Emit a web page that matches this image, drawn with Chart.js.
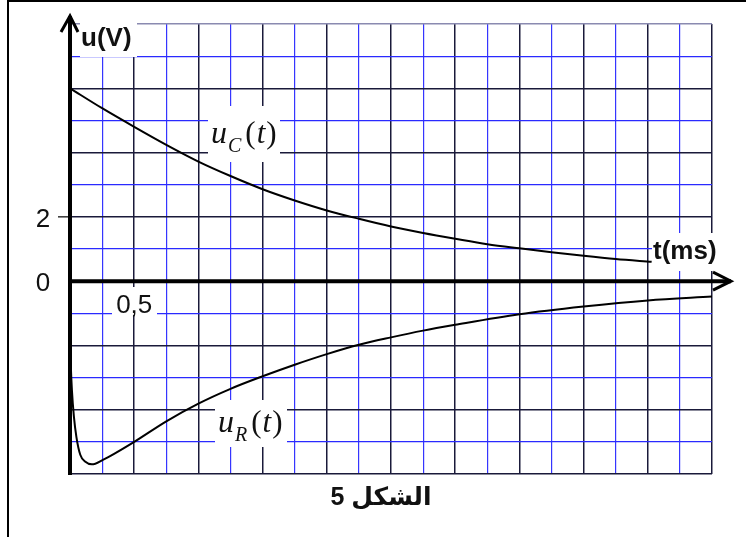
<!DOCTYPE html>
<html>
<head>
<meta charset="utf-8">
<script src="https://cdn.jsdelivr.net/npm/chart.js@4/dist/chart.umd.min.js"></script>
<style>
  html, body { margin: 0; padding: 0; background: #fff; }
  canvas { display: block; }
</style>
</head>
<body>
<canvas id="graphe" width="746" height="537"></canvas>
<script>
// temps (ms) et tensions (V)
const tempsC = [0, 0.25, 0.5, 0.75, 1, 1.25, 1.5, 1.75, 2, 2.25, 2.5, 2.75, 3, 3.25, 3.5, 3.75, 4, 4.25, 4.53];
const tensionC = [6.0, 5.38, 4.8, 4.24, 3.72, 3.27, 2.86, 2.51, 2.2, 1.94, 1.7, 1.5, 1.32, 1.15, 1.02, 0.9, 0.79, 0.69, 0.6];

const tempsR = [0, 0.006, 0.015, 0.03, 0.05, 0.08, 0.12, 0.17, 0.26, 0.34, 0.5, 0.75, 1, 1.25, 1.5, 1.75, 2, 2.25, 2.5, 2.75, 3, 3.5, 4, 4.5, 5];
const tensionR = [-1.8, -2.6, -3.4, -4.2, -4.85, -5.4, -5.62, -5.7, -5.55, -5.38, -5.0, -4.36, -3.81, -3.35, -2.96, -2.6, -2.27, -1.98, -1.75, -1.54, -1.36, -1.03, -0.79, -0.6, -0.48];

// graduations affichées
const etiquettesY = [0, 2];
const etiquettesX = [0.5];

const pts = (xs, ys) => xs.map((x, i) => ({ x: x, y: ys[i] }));

// cache blanc derrière une étiquette
function boite(ctx, x, y, w, h) {
  ctx.fillStyle = '#fff';
  ctx.fillRect(x, y, w, h);
}

const decor = {
  id: 'decor',
  beforeDatasetsDraw(chart) {
    const ctx = chart.ctx;
    const sx = chart.scales.x, sy = chart.scales.y;
    ctx.save();

    boite(ctx, 80, 14, 57, 43);
    boite(ctx, 208, 106, 72, 56);
    boite(ctx, 215, 400, 72, 47);
    boite(ctx, 112, 287, 45, 28);
    boite(ctx, 652, 233, 73, 38);

    ctx.fillStyle = '#111';
    ctx.textBaseline = 'alphabetic';

    // u(V) et t(ms)
    ctx.font = 'bold 26px Arial, "Liberation Sans"';
    ctx.textAlign = 'left';
    ctx.fillText('u(V)', 81, 46);
    ctx.fillText('t(ms)', 653, 259);

    // graduations
    ctx.font = '26px Arial, "Liberation Sans"';
    ctx.textAlign = 'center';
    etiquettesY.forEach(v => {
      ctx.fillText(String(v), 43, sy.getPixelForValue(v) + 10);
    });
    etiquettesX.forEach(v => {
      ctx.fillText(String(v).replace('.', ','), sx.getPixelForValue(v), 313);
    });

    // petit trait à 2
    ctx.strokeStyle = '#000';
    ctx.lineWidth = 1.2;
    ctx.beginPath();
    ctx.moveTo(58, sy.getPixelForValue(2));
    ctx.lineTo(sx.left, sy.getPixelForValue(2));
    ctx.stroke();

    // u_C(t) et u_R(t)
    ecrireTension(ctx, 'C', 211, 143);
    ecrireTension(ctx, 'R', 218, 432);

    // légende
    ctx.font = 'bold 25px Arial, "DejaVu Sans"';
    ctx.textAlign = 'center';
    ctx.direction = 'rtl';
    ctx.fillText('الشكل 5', 381, 505);
    ctx.restore();
  },
  afterDraw(chart) {
    const ctx = chart.ctx;
    const sx = chart.scales.x, sy = chart.scales.y;
    const x0 = sx.getPixelForValue(0), y0 = sy.getPixelForValue(0);
    ctx.save();
    ctx.strokeStyle = '#000';

    // axes épais
    ctx.lineWidth = 4;
    ctx.beginPath();
    ctx.moveTo(x0, sy.bottom + 1);
    ctx.lineTo(x0, 16);
    ctx.moveTo(x0, y0);
    ctx.lineTo(731, y0);
    ctx.stroke();

    // flèches
    ctx.lineWidth = 3;
    ctx.beginPath();
    ctx.moveTo(x0 - 9, 32);
    ctx.lineTo(x0, 16);
    ctx.lineTo(x0 + 8, 32);
    ctx.moveTo(713, y0 - 9);
    ctx.lineTo(731, y0);
    ctx.lineTo(713, y0 + 9);
    ctx.stroke();

    // cadre
    ctx.lineWidth = 2;
    ctx.strokeRect(8, 1, 800, 600);
    ctx.restore();
  }
};

function ecrireTension(ctx, indice, x, y) {
  const serif = '"Liberation Serif", "Times New Roman", serif';
  ctx.textAlign = 'left';
  ctx.font = 'italic 32px ' + serif;
  ctx.fillText('u', x, y);
  let cx = x + ctx.measureText('u').width + 1;
  ctx.font = 'italic 20px ' + serif;
  ctx.fillText(indice, cx, y + 9);
  cx += ctx.measureText(indice).width + 4;
  ctx.font = '31px ' + serif;
  ctx.fillText('(', cx, y);
  cx += ctx.measureText('(').width + 1;
  ctx.font = 'italic 31px ' + serif;
  ctx.fillText('t', cx, y);
  cx += ctx.measureText('t').width + 1;
  ctx.font = '31px ' + serif;
  ctx.fillText(')', cx, y);
}

const courbe = (data) => ({
  data: data,
  borderColor: '#000',
  borderWidth: 2,
  pointRadius: 0,
  fill: false,
  cubicInterpolationMode: 'monotone'
});

new Chart(document.getElementById('graphe'), {
  type: 'line',
  data: {
    datasets: [
      courbe(pts(tempsC, tensionC)),
      courbe(pts(tempsR, tensionR))
    ]
  },
  options: {
    responsive: false,
    animation: false,
    devicePixelRatio: 1,
    layout: { padding: { left: 70, right: 34, top: 24, bottom: 63 } },
    plugins: { legend: { display: false }, tooltip: { enabled: false } },
    scales: {
      x: {
        type: 'linear', min: 0, max: 5,
        ticks: { display: false, stepSize: 0.25 },
        border: { display: false },
        grid: {
          drawTicks: false,
          color: c => (Math.round(c.tick.value * 4) % 2 ? '#3535ff' : '#1a1a3a'),
          lineWidth: c => (Math.round(c.tick.value * 4) % 2 ? 1.2 : 1.5)
        }
      },
      y: {
        type: 'linear', min: -6, max: 8,
        ticks: { display: false, stepSize: 1 },
        border: { display: false },
        grid: {
          drawTicks: false,
          color: c => (c.tick.value === 8 ? '#8a8ab0' : (c.tick.value % 2 ? '#2a2aff' : '#1a1a3a')),
          lineWidth: c => (c.tick.value % 2 ? 1.2 : 1.5)
        }
      }
    }
  },
  plugins: [decor]
});
</script>
</body>
</html>
